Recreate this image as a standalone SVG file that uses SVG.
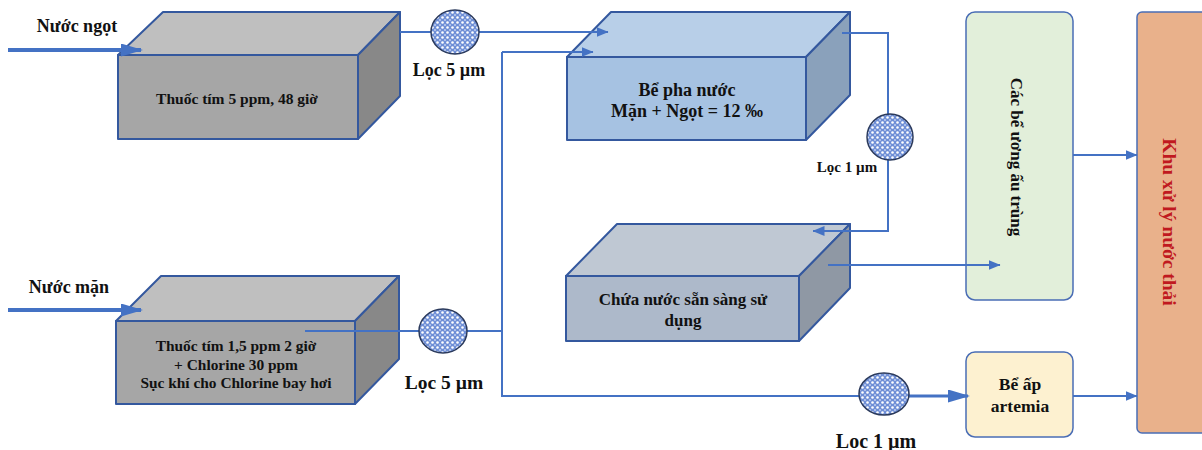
<svg xmlns="http://www.w3.org/2000/svg" width="1202" height="450" viewBox="0 0 1202 450">
<defs>
<style>
.t{font-family:"Liberation Serif","Times New Roman",serif;font-weight:bold;fill:#111;text-anchor:middle}
.box{stroke:#34589e;stroke-width:2;stroke-linejoin:round}
.c{fill:none;stroke:#4472c4;stroke-width:2}
.thick{fill:none;stroke:#4472c4;stroke-width:4}
.flt{fill:url(#mesh);stroke:#2b3a5c;stroke-width:1.5}
</style>
<pattern id="mesh" width="5" height="5" patternUnits="userSpaceOnUse">
<rect width="5" height="5" fill="#6f8fd6"/>
<circle cx="2.5" cy="2.5" r="1.3" fill="#ffffff"/>
<circle cx="0" cy="0" r="0.8" fill="#ffffff"/>
<circle cx="5" cy="5" r="0.8" fill="#ffffff"/>
<circle cx="0" cy="5" r="0.8" fill="#ffffff"/>
<circle cx="5" cy="0" r="0.8" fill="#ffffff"/>
</pattern>
<marker id="ahM" viewBox="0 0 22 13" refX="20" refY="6.5" markerWidth="22" markerHeight="13" markerUnits="userSpaceOnUse" orient="auto" preserveAspectRatio="none">
<path d="M0,0 L22,6.5 L0,13 z" fill="#4472c4"/>
</marker>
<marker id="ahT" viewBox="0 0 12 10" refX="11.5" refY="5" markerWidth="12" markerHeight="10" markerUnits="userSpaceOnUse" orient="auto" preserveAspectRatio="none">
<path d="M0,0 L12,5 L0,10 z" fill="#4472c4"/>
</marker>
</defs>
<rect width="1202" height="450" fill="#ffffff"/>

<g id="box-ngot">
<polygon class="box" points="118,55 163,12 400,12 358,55" fill="#bfbfbf"/>
<polygon class="box" points="358,55 400,12 400,96 358,139" fill="#888888"/>
<rect class="box" x="118" y="55" width="240" height="84" fill="#a6a6a6"/>
<text class="t" x="237" y="104" font-size="15.5">Thuốc tím 5 ppm, 48 giờ</text>
</g>

<g id="box-man">
<polygon class="box" points="116,321 161,276 399,276 355,321" fill="#bfbfbf"/>
<polygon class="box" points="355,321 399,276 399,359 355,404" fill="#888888"/>
<rect class="box" x="116" y="321" width="239" height="83" fill="#a6a6a6"/>
<text class="t" x="236" y="351" font-size="15.4">Thuốc tím 1,5 ppm 2 giờ</text>
<text class="t" x="236" y="370" font-size="15.4">+ Chlorine 30 ppm</text>
<text class="t" x="236" y="388" font-size="15.4">Sục khí cho Chlorine bay hơi</text>
</g>

<g id="box-pha">
<polygon class="box" points="567,57 611,12 850,12 806,57" fill="#b8cfe8"/>
<polygon class="box" points="806,57 850,12 850,95 806,140" fill="#8aa1bb"/>
<rect class="box" x="567" y="57" width="239" height="83" fill="#a6c2e2"/>
<text class="t" x="687" y="96" font-size="18">Bể pha nước</text>
<text class="t" x="687" y="117" font-size="18">Mặn + Ngọt = 12 ‰</text>
</g>

<g id="box-chua">
<polygon class="box" points="566,276 617,224 850,224 799,276" fill="#bfc8d3"/>
<polygon class="box" points="799,276 850,224 850,288 799,341" fill="#8f98a4"/>
<rect class="box" x="566" y="276" width="233" height="65" fill="#adb9ca"/>
<text class="t" x="683" y="305" font-size="17">Chứa nước sẵn sàng sử</text>
<text class="t" x="683" y="326" font-size="17">dụng</text>
</g>

<g id="box-uong">
<rect x="966" y="12" width="107" height="288" rx="9" fill="#e2efda" stroke="#4a6db5" stroke-width="1.5"/>
<text class="t" font-size="17" transform="translate(1017,157) rotate(90)" dy="6">Các bể ương ấu trùng</text>
</g>

<g id="box-artemia">
<rect x="966" y="352" width="107" height="85" rx="9" fill="#fdf1d0" stroke="#4a6db5" stroke-width="1.5"/>
<text class="t" x="1020" y="390" font-size="17.5">Bể ấp</text>
<text class="t" x="1020" y="412" font-size="17.5">artemia</text>
</g>

<g id="box-xuly">
<rect x="1137" y="12" width="70" height="421" rx="5" fill="#e9b18b" stroke="#4a6db5" stroke-width="1.5"/>
<text class="t" font-size="19.5" transform="translate(1170,222) rotate(90)" dy="7" style="fill:#c0191f">Khu xử lý nước thải</text>
</g>

<g id="connectors">
<line class="thick" x1="8" y1="50" x2="141" y2="50" marker-end="url(#ahM)"/>
<line class="thick" x1="8" y1="310" x2="141" y2="310" marker-end="url(#ahM)"/>
<line class="c" x1="400" y1="32" x2="608" y2="32" marker-end="url(#ahT)"/>
<line class="c" x1="305" y1="331" x2="502" y2="331"/>
<polyline class="c" points="502,52 502,396 900,396"/>
<line class="c" x1="502" y1="52" x2="593" y2="52" marker-end="url(#ahT)"/>
<line class="c" x1="900" y1="396" x2="968" y2="396" style="stroke-width:3" marker-end="url(#ahM)"/>
<polyline class="c" points="842,33 888,33 888,231 813,231" marker-end="url(#ahT)"/>
<line class="c" x1="828" y1="265" x2="1000" y2="265" marker-end="url(#ahT)"/>
<line class="c" x1="1073" y1="155" x2="1137" y2="155" marker-end="url(#ahT)"/>
<line class="c" x1="1073" y1="396" x2="1137" y2="396" marker-end="url(#ahT)"/>
</g>

<g id="filter-top">
<ellipse class="flt" cx="455" cy="32" rx="24" ry="22"/>
<text class="t" x="449" y="76" font-size="18">Lọc 5 µm</text>
</g>
<g id="filter-bottom">
<ellipse class="flt" cx="443" cy="331" rx="24" ry="22"/>
<text class="t" x="444" y="389" font-size="19.5">Lọc 5 µm</text>
</g>
<g id="filter-right">
<ellipse class="flt" cx="890" cy="137" rx="23" ry="23"/>
<text class="t" x="847" y="172" font-size="15">Lọc 1 µm</text>
</g>
<g id="filter-artemia">
<ellipse class="flt" cx="884" cy="394" rx="25" ry="21"/>
<text class="t" x="876" y="448" font-size="20">Lọc 1 µm</text>
</g>

<g id="labels">
<text class="t" x="77" y="32" font-size="18">Nước ngọt</text>
<text class="t" x="69" y="293" font-size="18">Nước mặn</text>
</g>
</svg>
